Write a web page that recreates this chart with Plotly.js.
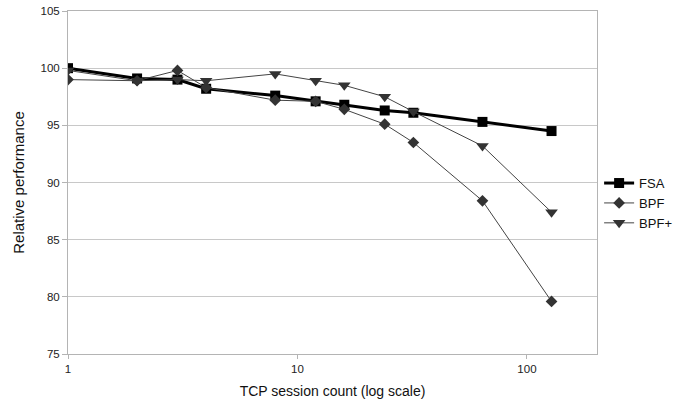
<!DOCTYPE html>
<html>
<head>
<meta charset="utf-8">
<script src="https://cdn.plot.ly/plotly-3.0.1.min.js"></script>
<style>html,body{margin:0;padding:0;background:#fff;}#chart{width:683px;height:405px;}</style>
</head>
<body>
<div id="chart"></div>
<script>
const sessions = [1, 2, 3, 4, 8, 12, 16, 24, 32, 64, 128];
const fsa = [100.0, 99.1, 99.0, 98.2, 97.6, 97.1, 96.8, 96.3, 96.1, 95.3, 94.5];
const bpf = [99.0, 98.9, 99.8, 98.3, 97.2, 97.1, 96.4, 95.1, 93.5, 88.4, 79.6];
const bpfPlus = [99.8, 98.9, 99.0, 98.9, 99.5, 98.9, 98.5, 97.5, 96.2, 93.2, 87.4];
const xTicks = [1, 10, 100];
const yTicks = [75, 80, 85, 90, 95, 100, 105];

const font = {family: 'Liberation Sans, Arial, sans-serif', size: 11.5, color: '#222'};

const traces = [
  {x: sessions, y: fsa, name: 'FSA', mode: 'lines+markers',
   line: {color: '#000', width: 3}, marker: {symbol: 'square', size: 10, color: '#000'}},
  {x: sessions, y: bpf, name: 'BPF', mode: 'lines+markers',
   line: {color: '#444', width: 1}, marker: {symbol: 'diamond', size: 9, color: '#333'}},
  {x: sessions, y: bpfPlus, name: 'BPF+', mode: 'lines+markers',
   line: {color: '#444', width: 1}, marker: {symbol: 'triangle-down', size: 11, color: '#333'}}
];

const layout = {
  width: 683, height: 405,
  margin: {l: 68, r: 86, t: 11, b: 51, autoexpand: false},
  paper_bgcolor: '#fff', plot_bgcolor: '#fff',
  font: font,
  showlegend: true,
  legend: {x: 1.004, y: 0.44, xanchor: 'left', yanchor: 'middle',
           font: {family: 'Liberation Sans, Arial, sans-serif', size: 13, color: '#111'},
           tracegroupgap: 0, itemwidth: 30},
  xaxis: {type: 'log', range: [0, Math.log10(202)], tickvals: xTicks, ticktext: xTicks.map(String),
          showgrid: false, zeroline: false, showline: true, linecolor: '#b4b4b4', linewidth: 1,
          mirror: true, ticks: 'outside', ticklen: 4, tickcolor: '#b4b4b4',
          title: {text: 'TCP session count (log scale)', font: {size: 14, color: '#111'}, standoff: 12}},
  yaxis: {range: [75, 105], tickvals: yTicks, showgrid: true, gridcolor: '#c8c8c8', gridwidth: 1,
          zeroline: false, showline: true, linecolor: '#b4b4b4', linewidth: 1, mirror: true,
          ticks: 'outside', ticklen: 5, tickcolor: '#b4b4b4',
          title: {text: 'Relative performance', font: {size: 15, color: '#111'}, standoff: 12}}
};

Plotly.newPlot('chart', traces, layout, {staticPlot: true, displayModeBar: false});
</script>
</body>
</html>
